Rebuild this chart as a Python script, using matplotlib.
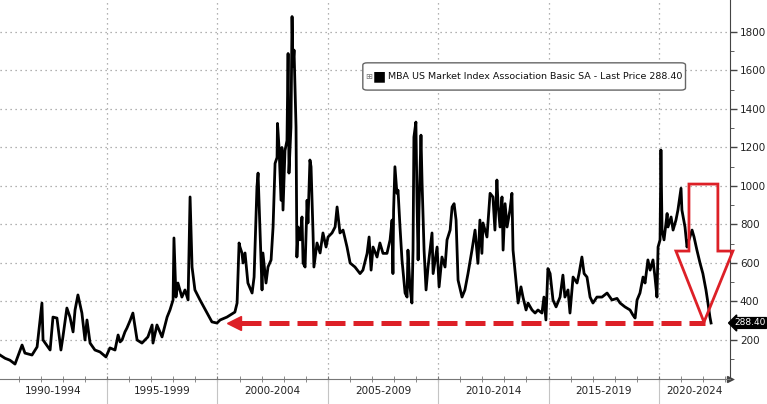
import matplotlib
matplotlib.use('Agg')
import matplotlib.pyplot as plt
import matplotlib.transforms as mtransforms
from matplotlib.patches import Polygon, FancyBboxPatch

# weekly index (decimal year, index level)
years = [
    1990.15, 1990.38, 1990.60, 1990.83, 1991.15, 1991.28, 1991.60, 1991.83, 1992.05, 1992.10,
    1992.42, 1992.55, 1992.73, 1992.91, 1993.00, 1993.18, 1993.32, 1993.46, 1993.55, 1993.68,
    1993.86, 1994.00, 1994.09, 1994.23, 1994.45, 1994.68, 1994.95, 1995.13, 1995.36, 1995.50,
    1995.59, 1995.68, 1995.81, 1995.90, 1996.04, 1996.17,
    1996.36, 1996.58, 1996.85, 1997.04, 1997.08, 1997.26, 1997.49, 1997.72, 1997.85, 1997.99,
    1998.03, 1998.12, 1998.21, 1998.39, 1998.53, 1998.67, 1998.76, 1998.85, 1998.98, 1999.21,
    1999.53, 1999.75, 1999.98, 2000.12, 2000.43, 2000.79, 2000.89, 2000.98, 2001.02, 2001.11,
    2001.16, 2001.25, 2001.38, 2001.57, 2001.66, 2001.79, 2001.84, 2001.93, 2002.02, 2002.06,
    2002.20, 2002.29, 2002.43, 2002.52, 2002.61, 2002.70, 2002.72, 2002.79, 2002.88, 2002.92,
    2002.97, 2003.06, 2003.15, 2003.20, 2003.24, 2003.33, 2003.38, 2003.42, 2003.47, 2003.56,
    2003.60, 2003.65, 2003.74, 2003.83, 2003.88, 2003.97, 2004.06, 2004.10, 2004.19, 2004.24,
    2004.33, 2004.37, 2004.51, 2004.65, 2004.78, 2004.92, 2005.01, 2005.19, 2005.33, 2005.42,
    2005.55, 2005.69, 2005.87, 2006.01, 2006.23, 2006.46,
    2006.59, 2006.78, 2006.87, 2006.96, 2007.05, 2007.23, 2007.36, 2007.50, 2007.68, 2007.82,
    2007.91, 2007.95, 2007.98, 2008.04, 2008.13, 2008.18, 2008.27, 2008.36, 2008.50, 2008.59,
    2008.63, 2008.72, 2008.81, 2008.86, 2008.90, 2008.99, 2009.04, 2009.09, 2009.13, 2009.22,
    2009.27, 2009.36, 2009.45, 2009.54, 2009.72, 2009.77, 2009.95, 2010.04, 2010.17, 2010.31,
    2010.40, 2010.54, 2010.63, 2010.72, 2010.81, 2010.90, 2011.08, 2011.21, 2011.35, 2011.53,
    2011.67, 2011.80,
    2011.89, 2011.98, 2012.03, 2012.21, 2012.35, 2012.48, 2012.57, 2012.66, 2012.71, 2012.80,
    2012.89, 2012.94, 2013.03, 2013.12, 2013.25, 2013.34, 2013.39, 2013.52, 2013.62, 2013.75,
    2013.84, 2013.98, 2014.07, 2014.25, 2014.39, 2014.52, 2014.70, 2014.79, 2014.88, 2014.97,
    2015.07, 2015.20, 2015.34, 2015.52, 2015.65, 2015.74, 2015.88, 2015.97, 2016.11, 2016.29,
    2016.38, 2016.51, 2016.61, 2016.74, 2016.88, 2017.01, 2017.19, 2017.42,
    2017.65, 2017.87, 2018.10, 2018.24, 2018.46, 2018.69, 2018.82, 2018.92, 2019.01, 2019.14,
    2019.28, 2019.37, 2019.50, 2019.60, 2019.73, 2019.82, 2019.91, 2019.96, 2020.05, 2020.09,
    2020.14, 2020.23, 2020.37, 2020.41, 2020.55, 2020.64, 2020.77, 2020.86, 2021.00, 2021.04,
    2021.18, 2021.27, 2021.36, 2021.50, 2021.59, 2021.72, 2021.86, 2021.99, 2022.13, 2022.22,
    2022.31, 2022.36,
]
index_values = [
    122, 105, 95, 75, 174, 132, 122, 164, 392, 200,
    148, 319, 314, 148, 216, 366, 319, 242, 356, 434,
    340, 200, 304, 184, 148, 138, 112, 159, 148, 226,
    190, 200, 242, 262, 300, 340,
    200, 184, 216, 278, 184, 278, 216, 319, 356, 408,
    730, 423, 496, 423, 460, 408, 943, 579, 460, 408,
    340, 294, 288, 304, 319, 345, 392, 704, 683, 652,
    600, 652, 496, 444, 527, 995, 1067, 756, 460, 652,
    496, 579, 616, 787, 1117, 1148, 1325, 1200, 926, 1200,
    875, 1184, 1236, 1688, 1067, 1306, 1880, 1620, 1706, 1306,
    631, 787, 720, 839, 600, 579, 926, 808, 1135, 1100,
    756, 579, 704, 652, 756, 683, 735, 756, 787, 891,
    756, 771, 683, 600, 579, 545,
    563, 650, 735, 563, 683, 631, 704, 650, 650, 720,
    823, 545, 875, 1100, 962, 978, 787, 616, 444, 423,
    667, 476, 392, 667, 1254, 1332, 926, 616, 875, 1264,
    1014, 667, 460, 579, 756, 545, 683, 476, 631, 579,
    720, 771, 891, 908, 823, 511, 423, 460, 545, 667,
    771, 598,
    823, 650, 808, 735, 962, 943, 771, 1031, 908, 787,
    943, 667, 908, 787, 875, 962, 667, 511, 392, 476,
    423, 356, 392, 356, 340, 356, 340, 423, 304, 571,
    545, 408, 372, 423, 537, 423, 460, 340, 527, 496,
    545, 631, 545, 527, 423, 392, 423, 423,
    444, 408, 416, 392, 372, 356, 330, 314, 408, 444,
    527, 496, 616, 563, 616, 527, 423, 683, 720, 1187,
    771, 720, 857, 787, 839, 771, 823, 875, 988, 875,
    787, 683, 720, 771, 735, 667, 600, 545, 460, 392,
    319, 288.40,
]

period_labels = ['1990-1994', '1995-1999', '2000-2004', '2005-2009',
                 '2010-2014', '2015-2019', '2020-2024']
period_starts = [1990, 1995, 2000, 2005, 2010, 2015, 2020]
y_ticks = [200, 400, 600, 800, 1000, 1200, 1400, 1600, 1800]
last_price = 288.40
legend_text = 'MBA US Market Index Association Basic SA - Last Price 288.40'

RED = '#dd2027'
x_min, x_max = 1990.15, 2023.22

fig = plt.figure(figsize=(7.67, 4.04), dpi=100)
ax = fig.add_axes([0.0, 0.0631, 0.9518, 0.9369])

ax.plot(years, index_values, color='black', linewidth=2.0, solid_joinstyle='round', zorder=3)

ax.set_xlim(x_min, x_max)
ax.set_ylim(0, 1966)

# axes and grid
for side in ['left', 'top']:
    ax.spines[side].set_visible(False)
ax.spines['right'].set_color('#444444')
ax.spines['bottom'].set_color('#777777')
ax.yaxis.tick_right()
ax.set_yticks(y_ticks)
ax.set_yticks(range(0, 1900, 100), minor=True)
ax.tick_params(axis='y', which='major', direction='out', length=5, width=1,
               color='#444444', labelsize=7.5, labelcolor='#222222', pad=2)
ax.tick_params(axis='y', which='minor', direction='out', length=3, color='#444444')
ax.set_xticks(period_starts[1:])
ax.set_xticks(range(1991, 2024), minor=True)
ax.tick_params(axis='x', which='both', direction='inout', length=5, color='#777777',
               labelbottom=False)
ax.grid(True, which='major', color='#999999', linestyle=(0, (1, 3)), linewidth=0.9)

# period band under the axis
band = mtransforms.blended_transform_factory(ax.transData, ax.transAxes)
right_side = mtransforms.blended_transform_factory(ax.transAxes, ax.transData)
ends = period_starts[1:] + [x_max]
for start, end, label in zip(period_starts, ends, period_labels):
    lo = max(start, x_min)
    ax.text((lo + end) / 2, -0.034, label, transform=band, ha='center', va='center',
            fontsize=7.5, color='#222222')
    if start > x_min:
        ax.plot([start, start], [0, -0.07], transform=band, color='#c4c4c4',
                linewidth=0.8, clip_on=False)
ax.plot([x_max], [0], transform=band, marker='>', color='#444444', markersize=4, clip_on=False)

# legend box
ax.add_patch(FancyBboxPatch((0.497, 0.762), 0.442, 0.072, transform=ax.transAxes,
                            boxstyle='round,pad=0,rounding_size=0.006',
                            facecolor='white', edgecolor='#666666', linewidth=1, zorder=5))
ax.text(0.505, 0.798, '\u229e', transform=ax.transAxes, ha='center', va='center',
        fontsize=6, color='#777777', zorder=6)
ax.text(0.519, 0.798, '\u25a0', transform=ax.transAxes, ha='center', va='center',
        fontsize=10, color='black', zorder=6)
ax.text(0.531, 0.798, legend_text, transform=ax.transAxes, ha='left', va='center',
        fontsize=6.8, color='#111111', zorder=6)

# last price tag
ax.annotate(f'{last_price:.2f}', xy=(1.0, last_price), xycoords=right_side,
            xytext=(3, 0), textcoords='offset points', ha='left', va='center',
            fontsize=6.5, color='white',
            bbox=dict(boxstyle='larrow,pad=0.1', fc='black', ec='black'),
            annotation_clip=False, zorder=7)

# red dashed arrow back to the 2000 level
ax.plot([2001.07, 2022.1], [last_price, last_price], color=RED, linewidth=3.6,
        linestyle=(0, (4, 1.6)), solid_capstyle='butt', zorder=4)
ax.plot([2000.75], [last_price], marker='<', color=RED, markersize=10, zorder=4)

# hollow down arrow
arrow_pts = [(2021.36, 1010), (2022.67, 1010), (2022.67, 662), (2023.35, 662),
             (2022.04, 293), (2020.77, 662), (2021.36, 662)]
ax.add_patch(Polygon(arrow_pts, closed=True, fill=False, edgecolor=RED,
                     linewidth=2.0, clip_on=False, zorder=4))

fig.savefig('out.png', dpi=100)
